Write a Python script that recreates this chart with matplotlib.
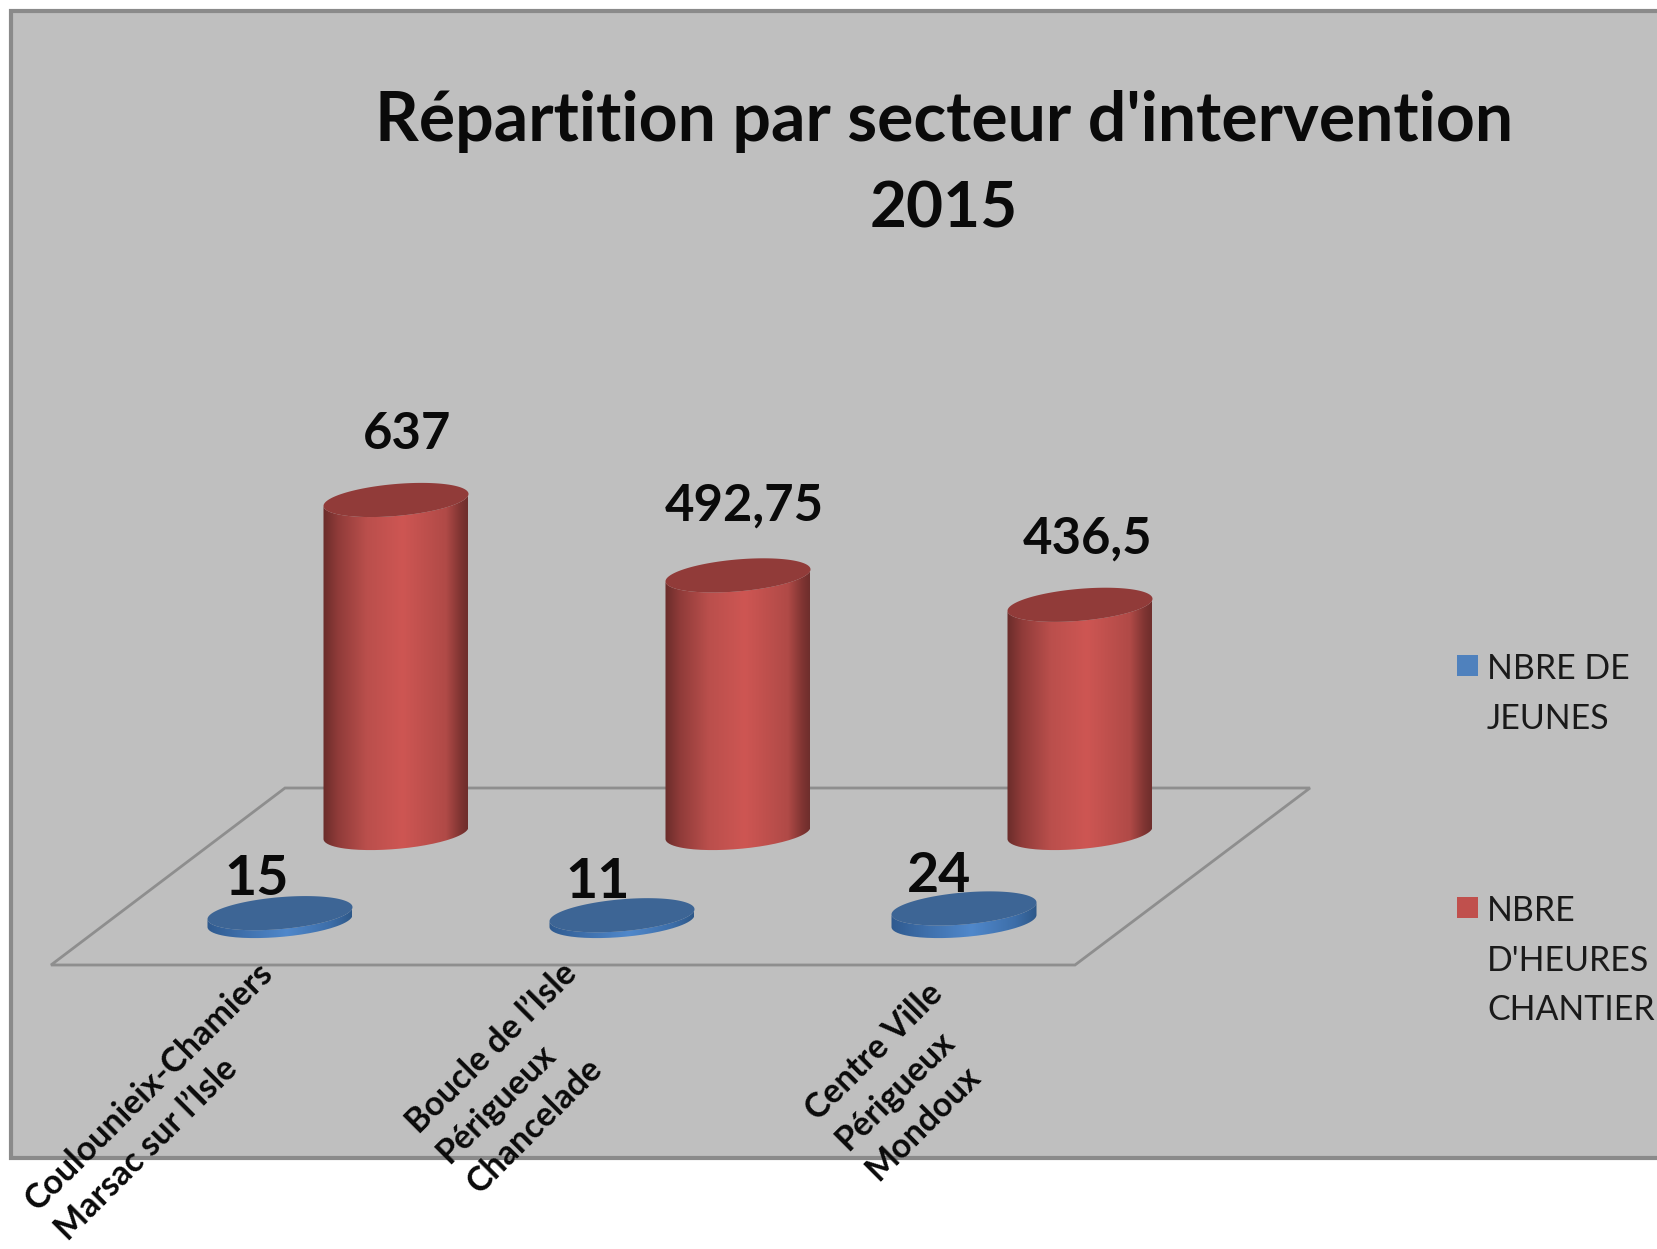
import matplotlib
matplotlib.use('Agg')
import matplotlib.pyplot as plt
import numpy as np
from matplotlib.colors import LinearSegmentedColormap
from matplotlib.patches import PathPatch, Polygon, Rectangle
from matplotlib.path import Path

# Data
sectors = ['Coulounieix-Chamiers\nMarsac sur l\u2019Isle',
           'Boucle de l\u2019Isle\nPérigueux\nChancelade',
           'Centre Ville\nPérigueux\nMondoux']
jeunes = [15, 11, 24]
heures = [637, 492.75, 436.5]
jeunes_labels = ['15', '11', '24']
heures_labels = ['637', '492,75', '436,5']
legend_names = ['NBRE DE\nJEUNES', "NBRE\nD'HEURES\nCHANTIER"]

W, H = 1658, 1249
PX_X = 342.0    # pixels per category
PX_Y = 0.5228   # pixels per value unit
X0, Y0 = 396.0, 833.0   # pixel of category 0, value 0 (back row)

plt.rcParams['font.family'] = ['Lato', 'DejaVu Sans']

fig = plt.figure(figsize=(W / 100, H / 100), dpi=100, facecolor='white')

# pixel layer for the panel, floor and texts
bg = fig.add_axes([0, 0, 1, 1], zorder=0)
bg.set_xlim(0, W)
bg.set_ylim(H, 0)
bg.axis('off')

bg.add_patch(Rectangle((11, 11), W + 20, 1147, fc='#BFBFBF', ec='#8A8A8A', lw=3))
bg.add_patch(Polygon([(51, 965), (1075, 965), (1310, 788), (285, 788)], closed=True,
                     fc='none', ec='#8E8E8E', lw=2))

# value layer for the cylinders
ax = fig.add_axes([0, 0, 1, 1], zorder=1)
ax.patch.set_alpha(0)
ax.axis('off')
xlim = ((0 - X0) / PX_X, (W - X0) / PX_X)
ylim = ((Y0 - H) / PX_Y, Y0 / PX_Y)

red_cmap = LinearSegmentedColormap.from_list('red', [
    (0, '#6A2C2A'), (0.1, '#8F3B39'), (0.3, '#BA4F4C'), (0.55, '#CE5653'),
    (0.85, '#B04A47'), (0.95, '#7F3432'), (1, '#6E2E2C')])
blue_cmap = LinearSegmentedColormap.from_list('blue', [
    (0, '#2F5A8F'), (0.25, '#3F70AC'), (0.55, '#5088CB'), (0.85, '#3D6EA9'), (1, '#2E5889')])

half_w = 72.5 / PX_X     # half width in categories
half_h = 16.0 / PX_Y     # half height of the ellipse in values
shear = 6.0 / PX_Y       # right end sits higher than the left


def ellipse_pts(cx, cy, t):
    return np.column_stack([cx + half_w * np.cos(t), cy + half_h * np.sin(t) + shear * np.cos(t)])


def cylinder(x, base, value, cmap, top_color, z):
    top = base + value
    lower = ellipse_pts(x, base, np.linspace(np.pi, 2 * np.pi, 80))
    upper = ellipse_pts(x, top, np.linspace(0, -np.pi, 80))
    body = np.vstack([lower, upper, lower[:1]])
    img = ax.imshow(np.linspace(0, 1, 256)[None, :], cmap=cmap, aspect='auto', zorder=z,
                    extent=(x - half_w, x + half_w, base - half_h * 1.3, top + half_h * 1.3))
    img.set_clip_path(PathPatch(Path(body), transform=ax.transData))
    cap = ellipse_pts(x, top, np.linspace(0, 2 * np.pi, 160))
    ax.add_patch(Polygon(cap, closed=True, fc=top_color, ec='none', zorder=z + 0.1))


x_pos = np.arange(len(sectors))
blue_dx = -116.0 / PX_X
blue_base = -(921.0 - Y0) / PX_Y

for i in x_pos:
    cylinder(i, 0, heures[i], red_cmap, '#913B39', 3)
    cylinder(i + blue_dx, blue_base, jeunes[i], blue_cmap, '#3D6595', 4)

ax.set_xlim(xlim)
ax.set_ylim(ylim)

# value labels, offsets in pixels converted to points
red_off = [(11, 70), (6, 74), (8, 70)]
blue_off = [(-23, 39), (-24, 38), (-25, 37)]
for i in x_pos:
    ax.annotate(heures_labels[i], (i, heures[i]), xytext=(red_off[i][0] * 0.72, red_off[i][1] * 0.72),
                textcoords='offset points', ha='center', va='center_baseline', fontsize=36.5,
                fontweight='bold', color='#0A0A0A', zorder=6)
    ax.annotate(jeunes_labels[i], (i + blue_dx, blue_base + jeunes[i]),
                xytext=(blue_off[i][0] * 0.72, blue_off[i][1] * 0.72),
                textcoords='offset points', ha='center', va='center_baseline', fontsize=40,
                fontweight='bold', color='#0A0A0A', zorder=6)

# title
bg.text(944, 121, "Répartition par secteur d'intervention", ha='center', va='center',
        fontsize=49, fontweight='bold', color='#0A0A0A')
bg.text(944, 209, '2015', ha='center', va='center', fontsize=46, fontweight='bold', color='#0A0A0A')

# category labels, anchored at the left end of the block
label_xy = [(46, 1220), (442, 1158), (841, 1145)]
for name, (lx, ly) in zip(sectors, label_xy):
    bg.text(lx, ly, name, rotation=45, rotation_mode='anchor', ha='left', va='center',
            multialignment='left', fontsize=24.5, fontweight='bold', color='#0A0A0A', linespacing=1.42)

# legend
swatches = ['#4F81BD', '#C0504D']
leg_y = [655, 897]
for name, c, ly in zip(legend_names, swatches, leg_y):
    bg.add_patch(Rectangle((1457, ly), 21, 21, fc=c, ec='none'))
    bg.text(1487, ly - 2, name, ha='left', va='top', fontsize=24.4, color='#1A1A1A', linespacing=1.68)

fig.savefig('out.png', dpi=100)
